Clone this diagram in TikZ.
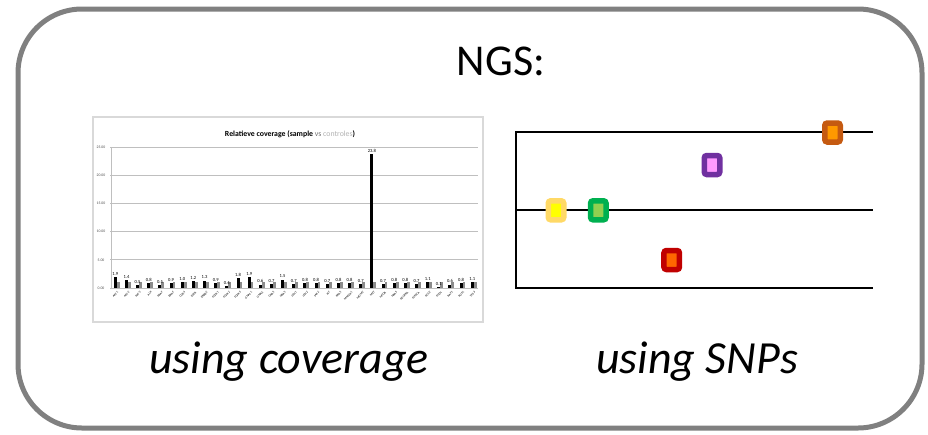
\documentclass[tikz,border=0pt]{standalone}
\usepackage{fontspec}
\setmainfont{Carlito}
\definecolor{frame}{HTML}{808080}
\definecolor{chartborder}{HTML}{D9D9D9}
\definecolor{grid}{HTML}{BFBFBF}
\definecolor{ctrl}{HTML}{8C8C8C}
\definecolor{orangeB}{HTML}{C55A11}
\definecolor{orangeF}{HTML}{FF9900}
\definecolor{purpleB}{HTML}{7030A0}
\definecolor{purpleF}{HTML}{FF99FF}
\definecolor{yellowB}{HTML}{FFD966}
\definecolor{yellowF}{HTML}{FFFF00}
\definecolor{greenB}{HTML}{00B050}
\definecolor{greenF}{HTML}{92D050}
\definecolor{redB}{HTML}{C00000}
\definecolor{redF}{HTML}{FF6600}
\tikzset{
  bigtext/.style={font=\fontsize{44}{50}\selectfont, inner sep=0pt},
  captext/.style={font=\fontsize{46}{52}\selectfont\itshape, inner sep=0pt, anchor=base},
  snpline/.style={line width=2pt, black},
  snp/.style 2 args={draw=#1, fill=#2, line width=5.5pt, rounded corners=2.5pt, minimum width=15.5pt, minimum height=19pt, inner sep=0pt},
  genelabel/.style={font=\fontsize{3.1}{3.5}\selectfont, inner sep=0pt, anchor=east, rotate=45},
  vallabel/.style={font=\fontsize{4.6}{5}\selectfont, inner sep=0pt, anchor=south},
  ticklabel/.style={font=\fontsize{3.8}{4}\selectfont, inner sep=0pt, text=black!70},
}
\begin{document}
\begin{tikzpicture}[x=1pt,y=-1pt]
\path[use as bounding box] (0,0) rectangle (928,434);
% outer frame
\draw[frame, line width=5pt, rounded corners=64pt] (18,9) rectangle (922,428);
% title
\node[bigtext, anchor=base] (ngs) at (501,75) {NGS:};
% ---------------- chart ----------------
\draw[chartborder, line width=1.8pt, fill=white] (93,117) rectangle (483,322);
\node[font=\fontsize{7.8}{8}\selectfont\bfseries, inner sep=0pt] (ctitle) at (290,134)
  {Relatieve coverage (sample {\mdseries\color{black!55}vs} {\mdseries\color{black!30}controles})};
\foreach \v/\yy in {0.00/288,5.00/259.8,10.00/231.6,15.00/203.4,20.00/175.2,25.00/147} {
  \draw[grid, line width=0.9pt] (110,\yy) -- (478,\yy);
  \node[ticklabel] at (101,\yy) {\v};
}
\draw[grid, line width=0.9pt] (111,147) -- (111,288);
\foreach \g/\v [count=\i] in {AKT1/1.9,AKT2/1.4,AKT3/0.5,ALK/0.8,ARAF/0.5,BRAF/0.9,CDK4/1.0,EGFR/1.2,ERBB2/1.3,FGFR1/0.9,FGFR2/0.4,FGFR3/1.8,GNA11/1.9,GNAQ/0.6,GNAS/0.7,HRAS/1.5,IDH1/0.7,IDH2/0.8,JAK2/0.8,KIT/0.7,KRAS/0.8,MAP2K1/0.8,MDM2/0.7,MET/23.8,MTOR/0.7,NRAS/0.8,PDGFRA/0.8,PIK3CA/0.7,POLE/1.1,PTEN/0.1,RAF1/0.6,ROS1/0.8,TP53/1.1} {
  \pgfmathsetmacro{\xc}{116+(\i-1)*11.156}
  \pgfmathsetmacro{\yt}{288-5.64*\v}
  \fill[black] (\xc-2.2,288) rectangle (\xc+0.8,\yt);
  \fill[ctrl] (\xc+0.8,288) rectangle (\xc+3.6,282.4);
  \node[vallabel] at (\xc-0.7,\yt-1.5) {\v};
  \node[genelabel] at (\xc+2,292) {\g};
}
\node[captext] (cov) at (289,373) {using coverage};
% ---------------- SNPs ----------------
\coordinate (tl) at (516,132);
\coordinate (ml) at (516,210);
\coordinate (bl) at (516,288);
\coordinate (tr) at (873,132);
\coordinate (mr) at (873,210);
\coordinate (br) at (873,288);
\draw[snpline] (tr) -- (tl) -- (bl) -- (br);
\draw[snpline] (ml) -- (mr);
\node[snp={orangeB}{orangeF}] (s1) at (832.5,132.5) {};
\node[snp={purpleB}{purpleF}] (s2) at (712,165) {};
\node[snp={yellowB}{yellowF}] (s3) at (556,210.3) {};
\node[snp={greenB}{greenF}] (s4) at (598.3,210.3) {};
\node[snp={redB}{redF}] (s5) at (671.7,260) {};
\node[captext] (snps) at (697,373) {using SNPs};
\end{tikzpicture}
\end{document}
